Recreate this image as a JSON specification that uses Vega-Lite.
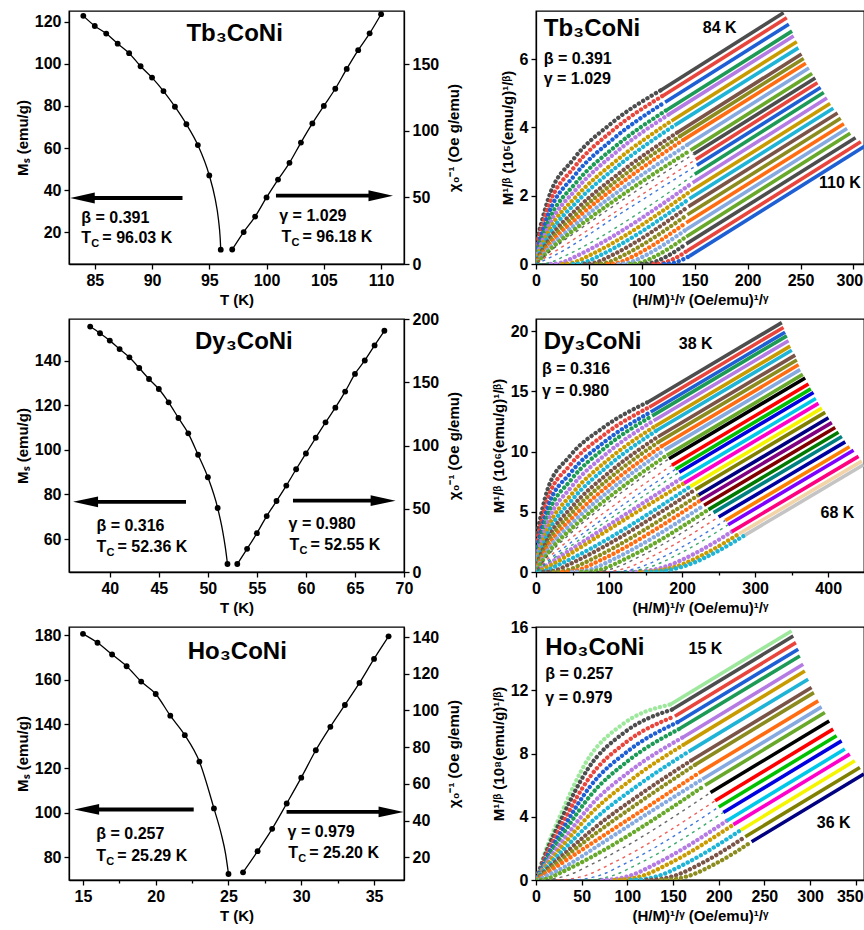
{
"$schema": "https://vega.github.io/schema/vega-lite/v6.json",
"background": "white",
"padding": {"left": 14, "top": 10, "right": 0, "bottom": 0},
"columns": 2,
"spacing": {"row": 55, "column": 132},
"bounds": "flush",
"resolve": {"scale": {"color": "independent", "stroke": "independent", "shape": "independent"}},
"config": {
 "view": {"stroke": "#000", "strokeWidth": 1.3},
 "axis": {"grid": false, "domainColor": "#000", "domainWidth": 1.3, "tickColor": "#000", "tickWidth": 1.3, "tickSize": 5, "labelFont": "Liberation Sans, Arial, sans-serif", "labelFontWeight": "bold", "labelFontSize": 16, "labelColor": "#000", "titleFont": "Liberation Sans, Arial, sans-serif", "titleFontWeight": "bold", "titleFontSize": 15, "titleColor": "#000", "labelOverlap": false, "labelBound": false, "labelFlush": false, "format": "~f", "labelPadding": 3, "titlePadding": 4},
 "text": {"font": "Liberation Sans, Arial, sans-serif", "fontWeight": "bold", "color": "#000"}
},
"datasets": {
 "tbMs": [{"T":84,"M":122.7},{"T":85,"M":117.9},{"T":86,"M":114.3},{"T":87,"M":109.5},{"T":88,"M":105},{"T":89,"M":98.8},{"T":90,"M":93.4},{"T":91,"M":87},{"T":92,"M":79.6},{"T":93,"M":71.3},{"T":94,"M":61.4},{"T":95,"M":47},{"T":96,"M":11.8}],
 "tbMsFit": [{"T":84,"M":122.7},{"T":85,"M":117.9},{"T":86,"M":114.3},{"T":87,"M":109.5},{"T":88,"M":105},{"T":89,"M":98.8},{"T":90,"M":93.4},{"T":91,"M":87},{"T":92,"M":79.6},{"T":93,"M":71.3},{"T":94,"M":61.4},{"T":95,"M":47},{"T":95.5,"M":36.2},{"T":95.8,"M":26.1},{"T":95.95,"M":17.3},{"T":96,"M":11.8}],
 "tbChi": [{"T":97,"C":10.9},{"T":98,"C":24},{"T":99,"C":35.6},{"T":100,"C":50},{"T":101,"C":63.4},{"T":102,"C":76},{"T":103,"C":91.2},{"T":104,"C":105.6},{"T":105,"C":118.7},{"T":106,"C":131.6},{"T":107,"C":146.5},{"T":108,"C":160.6},{"T":109,"C":173.2},{"T":110,"C":187.6}],
 "tbArr": [{"T":92.66,"T2":84.6,"M":36.3,"H":83.93,"dir":"left"},{"T":100.82,"T2":109.3,"M":37.4,"H":109.97,"dir":"right"}],
 "tbTxt": [{"T":83.83,"M":24.4,"a":"β = 0.391","sub":"","b":""},{"T":83.83,"M":14.9,"a":"T","sub":"C","b":"= 96.03 K"},{"T":101.11,"M":25.2,"a":"γ = 1.029","sub":"","b":""},{"T":101.3,"M":15.4,"a":"T","sub":"C","b":"= 96.18 K"}],
 "tbTitle": [{"T":93.0,"M":110.8,"t":"Tb₃CoNi"}],
 "dyMs": [{"T":38,"M":155.3},{"T":39,"M":152.3},{"T":40,"M":149},{"T":41,"M":145.2},{"T":42,"M":141.5},{"T":43,"M":136.7},{"T":44,"M":131.8},{"T":45,"M":127.3},{"T":46,"M":121.3},{"T":47,"M":114.3},{"T":48,"M":107.4},{"T":49,"M":97.8},{"T":50,"M":87.7},{"T":51,"M":73.9},{"T":52,"M":48.8}],
 "dyMsFit": [{"T":38,"M":155.3},{"T":39,"M":152.3},{"T":40,"M":149},{"T":41,"M":145.2},{"T":42,"M":141.5},{"T":43,"M":136.7},{"T":44,"M":131.8},{"T":45,"M":127.3},{"T":46,"M":121.3},{"T":47,"M":114.3},{"T":48,"M":107.4},{"T":49,"M":97.8},{"T":50,"M":87.7},{"T":51,"M":73.9},{"T":51.5,"M":63.8},{"T":51.8,"M":55.7},{"T":52,"M":48.8}],
 "dyChi": [{"T":53,"C":6.3},{"T":54,"C":18.3},{"T":55,"C":30.7},{"T":56,"C":44.2},{"T":57,"C":56.1},{"T":58,"C":68.3},{"T":59,"C":81.2},{"T":60,"C":93.7},{"T":61,"C":106.1},{"T":62,"C":118.3},{"T":63,"C":129.9},{"T":64,"C":142.6},{"T":65,"C":156.6},{"T":66,"C":167.2},{"T":67,"C":179.1},{"T":68,"C":190.7}],
 "dyArr": [{"T":47.77,"T2":38.5,"M":76.7,"H":37.53,"dir":"left"},{"T":58.68,"T2":67.2,"M":77.2,"H":67.87,"dir":"right"}],
 "dyTxt": [{"T":38.64,"M":63.7,"a":"β = 0.316","sub":"","b":""},{"T":38.64,"M":54.0,"a":"T","sub":"C","b":"= 52.36 K"},{"T":58.23,"M":64.5,"a":"γ = 0.980","sub":"","b":""},{"T":58.33,"M":55.1,"a":"T","sub":"C","b":"= 52.55 K"}],
 "dyTitle": [{"T":48.69,"M":145.2,"t":"Dy₃CoNi"}],
 "hoMs": [{"T":15,"M":180.7},{"T":16,"M":176.7},{"T":17,"M":171.4},{"T":18,"M":166.1},{"T":19,"M":159.2},{"T":20,"M":153.6},{"T":21,"M":143.8},{"T":22,"M":135},{"T":23,"M":123.1},{"T":24,"M":102},{"T":25,"M":72.4}],
 "hoMsFit": [{"T":15,"M":180.7},{"T":16,"M":176.7},{"T":17,"M":171.4},{"T":18,"M":166.1},{"T":19,"M":159.2},{"T":20,"M":153.6},{"T":21,"M":143.8},{"T":22,"M":135},{"T":23,"M":123.1},{"T":24,"M":102},{"T":24.5,"M":90.5},{"T":24.8,"M":81.5},{"T":25,"M":72.4}],
 "hoChi": [{"T":26,"C":11.8},{"T":27,"C":23.3},{"T":28,"C":35.5},{"T":29,"C":49.3},{"T":30,"C":63.4},{"T":31,"C":78.3},{"T":32,"C":91.1},{"T":33,"C":103},{"T":34,"C":115},{"T":35,"C":128.1},{"T":36,"C":140.4}],
 "hoArr": [{"T":22.61,"T2":15.9,"M":101.5,"H":15.25,"dir":"left"},{"T":28.99,"T2":35.8,"M":100.4,"H":36.17,"dir":"right"}],
 "hoTxt": [{"T":15.92,"M":88.0,"a":"β = 0.257","sub":"","b":""},{"T":15.92,"M":78.2,"a":"T","sub":"C","b":"=  25.29 K"},{"T":29.06,"M":89.2,"a":"γ = 0.979","sub":"","b":""},{"T":29.1,"M":79.7,"a":"T","sub":"C","b":"= 25.20 K"}],
 "hoTitle": [{"T":22.2,"M":169.4,"t":"Ho₃CoNi"}],
 "tbLow": [
  {"T":84,"x":1.2,"y":0.74},{"T":84,"x":11.8,"y":1.93},{"T":84,"x":35.4,"y":3.07},{"T":84,"x":70.8,"y":4.11},{"T":84,"x":118,"y":5.09},
  {"T":85,"x":1.2,"y":0.59},{"T":85,"x":12,"y":1.71},{"T":85,"x":36,"y":2.83},{"T":85,"x":72,"y":3.9},{"T":85,"x":120,"y":4.93},
  {"T":86,"x":1.2,"y":0.47},{"T":86,"x":12.2,"y":1.5},{"T":86,"x":36.6,"y":2.6},{"T":86,"x":73.2,"y":3.67},{"T":86,"x":122,"y":4.74},
  {"T":87,"x":1.2,"y":0.38},{"T":87,"x":12.4,"y":1.3},{"T":87,"x":37.2,"y":2.36},{"T":87,"x":74.4,"y":3.43},{"T":87,"x":124,"y":4.52},
  {"T":88,"x":1.3,"y":0.3},{"T":88,"x":12.6,"y":1.15},{"T":88,"x":37.8,"y":2.18},{"T":88,"x":75.6,"y":3.27},{"T":88,"x":126,"y":4.39},
  {"T":89,"x":1.3,"y":0.24},{"T":89,"x":12.8,"y":1.01},{"T":89,"x":38.4,"y":1.99},{"T":89,"x":76.8,"y":3.05},{"T":89,"x":128,"y":4.19},
  {"T":90,"x":1.3,"y":0.19},{"T":90,"x":13.1,"y":0.89},{"T":90,"x":39.3,"y":1.84},{"T":90,"x":78.6,"y":2.9},{"T":90,"x":131,"y":4.06},
  {"T":91,"x":1.3,"y":0.15},{"T":91,"x":13.4,"y":0.77},{"T":91,"x":40.2,"y":1.66},{"T":91,"x":80.4,"y":2.7},{"T":91,"x":134,"y":3.86},
  {"T":92,"x":1.4,"y":0.12},{"T":92,"x":13.7,"y":0.68},{"T":92,"x":41.1,"y":1.54},{"T":92,"x":82.2,"y":2.58},{"T":92,"x":137,"y":3.76},
  {"T":93,"x":1.4,"y":0.1},{"T":93,"x":14,"y":0.61},{"T":93,"x":42,"y":1.43},{"T":93,"x":84,"y":2.45},{"T":93,"x":140,"y":3.65},
  {"T":94,"x":1.4,"y":0.08},{"T":94,"x":14.3,"y":0.53},{"T":94,"x":42.9,"y":1.3},{"T":94,"x":85.8,"y":2.3},{"T":94,"x":143,"y":3.49},
  {"T":95,"x":1.5,"y":0.06},{"T":95,"x":14.6,"y":0.46},{"T":95,"x":43.8,"y":1.18},{"T":95,"x":87.6,"y":2.15},{"T":95,"x":146,"y":3.33},
  {"T":96,"x":1.5,"y":0.05},{"T":96,"x":14.9,"y":0.41},{"T":96,"x":44.7,"y":1.09},{"T":96,"x":89.4,"y":2.03},{"T":96,"x":149,"y":3.22},
  {"T":97,"x":1.5,"y":0.05},{"T":97,"x":15,"y":0.31},{"T":97,"x":45,"y":0.91},{"T":97,"x":90,"y":1.83},{"T":97,"x":151,"y":3.06},
  {"T":98,"x":0,"y":0.01},{"T":98,"x":4,"y":0.06},{"T":98,"x":16,"y":0.23},{"T":98,"x":80,"y":1.48},{"T":98,"x":152,"y":2.89},
  {"T":99,"x":3,"y":0},{"T":99,"x":9,"y":0.015},{"T":99,"x":15,"y":0.06},{"T":99,"x":27,"y":0.23},{"T":99,"x":150,"y":2.63},
  {"T":100,"x":14,"y":0},{"T":100,"x":20,"y":0.015},{"T":100,"x":26,"y":0.06},{"T":100,"x":38,"y":0.23},{"T":100,"x":148,"y":2.38},
  {"T":101,"x":25,"y":0},{"T":101,"x":31,"y":0.015},{"T":101,"x":37,"y":0.06},{"T":101,"x":49,"y":0.23},{"T":101,"x":146,"y":2.13},
  {"T":102,"x":35,"y":0},{"T":102,"x":41,"y":0.015},{"T":102,"x":47,"y":0.06},{"T":102,"x":59,"y":0.23},{"T":102,"x":145,"y":1.91},
  {"T":103,"x":46,"y":0},{"T":103,"x":52,"y":0.015},{"T":103,"x":58,"y":0.06},{"T":103,"x":70,"y":0.23},{"T":103,"x":144,"y":1.68},
  {"T":104,"x":57,"y":0},{"T":104,"x":63,"y":0.015},{"T":104,"x":69,"y":0.06},{"T":104,"x":81,"y":0.23},{"T":104,"x":143,"y":1.44},
  {"T":105,"x":68,"y":0},{"T":105,"x":74,"y":0.015},{"T":105,"x":80,"y":0.06},{"T":105,"x":92,"y":0.23},{"T":105,"x":142,"y":1.21},
  {"T":106,"x":78,"y":0},{"T":106,"x":84,"y":0.015},{"T":106,"x":90,"y":0.06},{"T":106,"x":102,"y":0.23},{"T":106,"x":142,"y":1.01},
  {"T":107,"x":89,"y":0},{"T":107,"x":95,"y":0.015},{"T":107,"x":101,"y":0.06},{"T":107,"x":113,"y":0.23},{"T":107,"x":142,"y":0.8},
  {"T":108,"x":100,"y":0},{"T":108,"x":106,"y":0.015},{"T":108,"x":112,"y":0.06},{"T":108,"x":124,"y":0.23},{"T":108,"x":142,"y":0.59},
  {"T":109,"x":111,"y":0},{"T":109,"x":117,"y":0.015},{"T":109,"x":123,"y":0.06},{"T":109,"x":135,"y":0.23},{"T":109,"x":143,"y":0.39},
  {"T":110,"x":121,"y":0},{"T":110,"x":127,"y":0.015},{"T":110,"x":133,"y":0.06},{"T":110,"x":145,"y":0.23}
 ],
 "tbHi": [
  {"T":84,"x":118,"y":5.09,"x2":234,"y2":7.36},{"T":85,"x":120,"y":4.93,"x2":237,"y2":7.21},{"T":86,"x":122,"y":4.74,"x2":239,"y2":7.02},{"T":87,"x":124,"y":4.52,"x2":242,"y2":6.82},{"T":88,"x":126,"y":4.39,"x2":243.5,"y2":6.68},{"T":89,"x":128,"y":4.19,"x2":246.5,"y2":6.51},{"T":90,"x":131,"y":4.06,"x2":248,"y2":6.33},{"T":91,"x":134,"y":3.86,"x2":251,"y2":6.15},{"T":92,"x":137,"y":3.76,"x2":253,"y2":6.02},{"T":93,"x":140,"y":3.65,"x2":255,"y2":5.88},{"T":94,"x":143,"y":3.49,"x2":258,"y2":5.74},{"T":95,"x":146,"y":3.33,"x2":261,"y2":5.58},{"T":96,"x":149,"y":3.22,"x2":264,"y2":5.45},{"T":97,"x":151,"y":3.06,"x2":266,"y2":5.31},{"T":98,"x":152,"y":2.89,"x2":269,"y2":5.17},{"T":99,"x":150,"y":2.63,"x2":272,"y2":5.02},{"T":100,"x":148,"y":2.38,"x2":275,"y2":4.86},{"T":101,"x":146,"y":2.13,"x2":278,"y2":4.7},{"T":102,"x":145,"y":1.91,"x2":281,"y2":4.56},{"T":103,"x":144,"y":1.68,"x2":285,"y2":4.42},{"T":104,"x":143,"y":1.44,"x2":288,"y2":4.27},{"T":105,"x":142,"y":1.21,"x2":291,"y2":4.11},{"T":106,"x":142,"y":1.01,"x2":294,"y2":3.97},{"T":107,"x":142,"y":0.8,"x2":297,"y2":3.83},{"T":108,"x":142,"y":0.59,"x2":302,"y2":3.7},{"T":109,"x":143,"y":0.39,"x2":307,"y2":3.58},{"T":110,"x":145,"y":0.23,"x2":312,"y2":3.48}
 ],
 "tbRTxt": [{"x":7.3,"y":5.85,"t":"β = 0.391"},{"x":7.3,"y":5.26,"t":"γ = 1.029"},{"x":157.7,"y":6.77,"t":"84 K"},{"x":267.5,"y":2.23,"t":"110 K"}],
 "tbRTitle": [{"x":7.3,"y":6.68,"t":"Tb₃CoNi"}],
 "dyLow": [
  {"T":38,"x":1.5,"y":3.24},{"T":38,"x":15.4,"y":6.77},{"T":38,"x":46.2,"y":9.61},{"T":38,"x":92.4,"y":12.0},{"T":38,"x":154,"y":14.13},
  {"T":39,"x":1.6,"y":2.61},{"T":39,"x":15.5,"y":5.98},{"T":39,"x":46.5,"y":8.86},{"T":39,"x":93,"y":11.38},{"T":39,"x":155,"y":13.68},
  {"T":40,"x":1.6,"y":2.1},{"T":40,"x":15.7,"y":5.29},{"T":40,"x":47.1,"y":8.21},{"T":40,"x":94.2,"y":10.82},{"T":40,"x":157,"y":13.28},
  {"T":41,"x":1.6,"y":1.71},{"T":41,"x":15.9,"y":4.7},{"T":41,"x":47.7,"y":7.63},{"T":41,"x":95.4,"y":10.36},{"T":41,"x":159,"y":12.96},
  {"T":42,"x":1.6,"y":1.38},{"T":42,"x":16.1,"y":4.16},{"T":42,"x":48.3,"y":7.05},{"T":42,"x":96.6,"y":9.83},{"T":42,"x":161,"y":12.56},
  {"T":43,"x":1.6,"y":1.1},{"T":43,"x":16.3,"y":3.65},{"T":43,"x":48.9,"y":6.47},{"T":43,"x":97.8,"y":9.28},{"T":43,"x":163,"y":12.1},
  {"T":44,"x":1.7,"y":0.89},{"T":44,"x":16.5,"y":3.23},{"T":44,"x":49.5,"y":5.99},{"T":44,"x":99,"y":8.82},{"T":44,"x":165,"y":11.74},
  {"T":45,"x":1.7,"y":0.71},{"T":45,"x":16.7,"y":2.82},{"T":45,"x":50.1,"y":5.46},{"T":45,"x":100.2,"y":8.27},{"T":45,"x":167,"y":11.23},
  {"T":46,"x":1.7,"y":0.56},{"T":46,"x":16.9,"y":2.48},{"T":46,"x":50.7,"y":5.02},{"T":46,"x":101.4,"y":7.82},{"T":46,"x":169,"y":10.84},
  {"T":47,"x":1.7,"y":0.46},{"T":47,"x":17.2,"y":2.18},{"T":47,"x":51.6,"y":4.6},{"T":47,"x":103.2,"y":7.38},{"T":47,"x":172,"y":10.44},
  {"T":48,"x":1.8,"y":0.36},{"T":48,"x":17.6,"y":1.93},{"T":48,"x":52.8,"y":4.25},{"T":48,"x":105.6,"y":7.0},{"T":48,"x":176,"y":10.12},
  {"T":49,"x":1.8,"y":0.29},{"T":49,"x":17.9,"y":1.68},{"T":49,"x":53.7,"y":3.87},{"T":49,"x":107.4,"y":6.56},{"T":49,"x":179,"y":9.68},
  {"T":50,"x":1.8,"y":0.24},{"T":50,"x":18.2,"y":1.49},{"T":50,"x":54.6,"y":3.59},{"T":50,"x":109.2,"y":6.24},{"T":50,"x":182,"y":9.4},
  {"T":51,"x":1.9,"y":0.18},{"T":51,"x":18.6,"y":1.25},{"T":51,"x":55.8,"y":3.18},{"T":51,"x":111.6,"y":5.74},{"T":51,"x":186,"y":8.86},
  {"T":52,"x":1.9,"y":0.14},{"T":52,"x":19.1,"y":1.07},{"T":52,"x":57.3,"y":2.88},{"T":52,"x":114.6,"y":5.38},{"T":52,"x":191,"y":8.53},
  {"T":53,"x":2,"y":0.1},{"T":53,"x":19.6,"y":0.93},{"T":53,"x":58.8,"y":2.64},{"T":53,"x":117.6,"y":5.09},{"T":53,"x":196,"y":8.28},
  {"T":54,"x":2,"y":0.08},{"T":54,"x":19.8,"y":0.77},{"T":54,"x":59.4,"y":2.32},{"T":54,"x":118.8,"y":4.64},{"T":54,"x":198,"y":7.74},
  {"T":55,"x":2,"y":0.04},{"T":55,"x":20.3,"y":0.56},{"T":55,"x":60.9,"y":2.04},{"T":55,"x":121.8,"y":4.37},{"T":55,"x":203,"y":7.38},
  {"T":56,"x":0,"y":0},{"T":56,"x":6.5,"y":0.034},{"T":56,"x":14,"y":0.135},{"T":56,"x":29,"y":0.54},{"T":56,"x":211,"y":7.09},
  {"T":57,"x":10,"y":0},{"T":57,"x":19,"y":0.04},{"T":57,"x":28,"y":0.16},{"T":57,"x":46,"y":0.65},{"T":57,"x":218,"y":6.84},
  {"T":58,"x":24,"y":0},{"T":58,"x":34.5,"y":0.047},{"T":58,"x":45,"y":0.19},{"T":58,"x":66,"y":0.76},{"T":58,"x":223,"y":6.41},
  {"T":59,"x":36,"y":0},{"T":59,"x":48,"y":0.054},{"T":59,"x":60,"y":0.22},{"T":59,"x":84,"y":0.86},{"T":59,"x":225,"y":5.94},
  {"T":60,"x":49,"y":0},{"T":60,"x":62.5,"y":0.061},{"T":60,"x":76,"y":0.24},{"T":60,"x":103,"y":0.97},{"T":60,"x":230,"y":5.54},
  {"T":61,"x":62,"y":0},{"T":61,"x":77,"y":0.068},{"T":61,"x":92,"y":0.27},{"T":61,"x":122,"y":1.08},{"T":61,"x":236,"y":5.18},
  {"T":62,"x":73,"y":0},{"T":62,"x":89.5,"y":0.074},{"T":62,"x":106,"y":0.3},{"T":62,"x":139,"y":1.19},{"T":62,"x":243,"y":4.93},
  {"T":63,"x":87,"y":0},{"T":63,"x":105,"y":0.081},{"T":63,"x":123,"y":0.32},{"T":63,"x":159,"y":1.3},{"T":63,"x":250,"y":4.57},
  {"T":64,"x":101,"y":0},{"T":64,"x":120.5,"y":0.088},{"T":64,"x":140,"y":0.35},{"T":64,"x":179,"y":1.4},{"T":64,"x":259,"y":4.28},
  {"T":65,"x":112,"y":0},{"T":65,"x":133,"y":0.095},{"T":65,"x":154,"y":0.38},{"T":65,"x":196,"y":1.51},{"T":65,"x":263,"y":3.92},
  {"T":66,"x":130,"y":0},{"T":66,"x":152.5,"y":0.1},{"T":66,"x":175,"y":0.41},{"T":66,"x":220,"y":1.62},{"T":66,"x":268,"y":3.35},
  {"T":67,"x":142,"y":0},{"T":67,"x":166,"y":0.11},{"T":67,"x":190,"y":0.43},{"T":67,"x":238,"y":1.73},{"T":67,"x":278,"y":3.17},
  {"T":68,"x":151,"y":0},{"T":68,"x":176,"y":0.11},{"T":68,"x":201,"y":0.45},{"T":68,"x":251,"y":1.8},{"T":68,"x":286,"y":3.06}
 ],
 "dyHi": [
  {"T":38,"x":154,"y":14.13,"x2":336.5,"y2":20.7},{"T":39,"x":155,"y":13.68,"x2":338.8,"y2":20.3},{"T":40,"x":157,"y":13.28,"x2":341,"y2":19.9},{"T":41,"x":159,"y":12.96,"x2":343.4,"y2":19.6},{"T":42,"x":161,"y":12.56,"x2":345.7,"y2":19.2},{"T":43,"x":163,"y":12.1,"x2":348,"y2":18.75},{"T":44,"x":165,"y":11.74,"x2":350.2,"y2":18.4},{"T":45,"x":167,"y":11.23,"x2":354.8,"y2":18.0},{"T":46,"x":169,"y":10.84,"x2":357.1,"y2":17.6},{"T":47,"x":172,"y":10.44,"x2":359.4,"y2":17.2},{"T":48,"x":176,"y":10.12,"x2":361.6,"y2":16.8},{"T":49,"x":179,"y":9.68,"x2":365.3,"y2":16.4},{"T":50,"x":182,"y":9.4,"x2":368.5,"y2":16.1},{"T":51,"x":186,"y":8.86,"x2":373,"y2":15.6},{"T":52,"x":191,"y":8.53,"x2":376.3,"y2":15.2},{"T":53,"x":196,"y":8.28,"x2":379.9,"y2":14.9},{"T":54,"x":198,"y":7.74,"x2":383.1,"y2":14.4},{"T":55,"x":203,"y":7.38,"x2":386.7,"y2":14.0},{"T":56,"x":211,"y":7.09,"x2":391.4,"y2":13.6},{"T":57,"x":218,"y":6.84,"x2":395.9,"y2":13.25},{"T":58,"x":223,"y":6.41,"x2":400.4,"y2":12.8},{"T":59,"x":225,"y":5.94,"x2":405,"y2":12.4},{"T":60,"x":230,"y":5.54,"x2":409.6,"y2":12.0},{"T":61,"x":236,"y":5.18,"x2":414.1,"y2":11.6},{"T":62,"x":243,"y":4.93,"x2":418.8,"y2":11.25},{"T":63,"x":250,"y":4.57,"x2":423.3,"y2":10.8},{"T":64,"x":259,"y":4.28,"x2":429.2,"y2":10.4},{"T":65,"x":263,"y":3.92,"x2":434.7,"y2":10.1},{"T":66,"x":268,"y":3.35,"x2":441.5,"y2":9.6},{"T":67,"x":278,"y":3.17,"x2":446,"y2":9.2},{"T":68,"x":286,"y":3.06,"x2":448.4,"y2":8.9}
 ],
 "dyRTxt": [{"x":8.2,"y":16.44,"t":"β = 0.316"},{"x":8.2,"y":14.58,"t":"γ = 0.980"},{"x":195.4,"y":18.55,"t":"38 K"},{"x":389.5,"y":4.5,"t":"68 K"}],
 "dyRTitle": [{"x":10.5,"y":18.47,"t":"Dy₃CoNi"}],
 "hoLow": [
  {"T":15,"x":1,"y":0.15},{"T":15,"x":7.4,"y":1.33},{"T":15,"x":29.4,"y":4.44},{"T":15,"x":55.9,"y":7.55},{"T":15,"x":95.6,"y":9.88},{"T":15,"x":147,"y":11.1},
  {"T":16,"x":1,"y":0.15},{"T":16,"x":7.5,"y":1.22},{"T":16,"x":29.8,"y":4.1},{"T":16,"x":56.6,"y":7.01},{"T":16,"x":96.9,"y":9.34},{"T":16,"x":149,"y":10.78},
  {"T":17,"x":1,"y":0.15},{"T":17,"x":7.6,"y":1.1},{"T":17,"x":30.4,"y":3.73},{"T":17,"x":57.8,"y":6.42},{"T":17,"x":98.8,"y":8.72},{"T":17,"x":152,"y":10.36},
  {"T":18,"x":1,"y":0.15},{"T":18,"x":7.8,"y":0.99},{"T":18,"x":31,"y":3.39},{"T":18,"x":58.9,"y":5.89},{"T":18,"x":100.8,"y":8.16},{"T":18,"x":155,"y":9.98},
  {"T":19,"x":1,"y":0.1},{"T":19,"x":7.9,"y":0.88},{"T":19,"x":31.4,"y":3.06},{"T":19,"x":59.7,"y":5.35},{"T":19,"x":102,"y":7.59},{"T":19,"x":157,"y":9.56},
  {"T":20,"x":1,"y":0.1},{"T":20,"x":8,"y":0.77},{"T":20,"x":32,"y":2.7},{"T":20,"x":60.8,"y":4.77},{"T":20,"x":104,"y":6.93},{"T":20,"x":160,"y":9.0},
  {"T":21,"x":1,"y":0.1},{"T":21,"x":8.2,"y":0.67},{"T":21,"x":32.6,"y":2.41},{"T":21,"x":61.9,"y":4.31},{"T":21,"x":106,"y":6.42},{"T":21,"x":163,"y":8.61},
  {"T":22,"x":1,"y":0.1},{"T":22,"x":8.4,"y":0.58},{"T":22,"x":33.4,"y":2.11},{"T":22,"x":63.5,"y":3.82},{"T":22,"x":108.6,"y":5.86},{"T":22,"x":167,"y":8.12},
  {"T":23,"x":1,"y":0.05},{"T":23,"x":8.6,"y":0.49},{"T":23,"x":34.2,"y":1.82},{"T":23,"x":65,"y":3.34},{"T":23,"x":111.2,"y":5.3},{"T":23,"x":171,"y":7.6},
  {"T":24,"x":1,"y":0.05},{"T":24,"x":8.7,"y":0.41},{"T":24,"x":34.8,"y":1.6},{"T":24,"x":66.1,"y":2.98},{"T":24,"x":113.1,"y":4.91},{"T":24,"x":174,"y":7.28},
  {"T":25,"x":1,"y":0.05},{"T":25,"x":8.9,"y":0.34},{"T":25,"x":35.6,"y":1.35},{"T":25,"x":67.6,"y":2.57},{"T":25,"x":115.7,"y":4.39},{"T":25,"x":178,"y":6.76},
  {"T":26,"x":2,"y":0.02},{"T":26,"x":30,"y":0.79},{"T":26,"x":70,"y":2.25},{"T":26,"x":120,"y":4.12},{"T":26,"x":182,"y":6.37},
  {"T":27,"x":0,"y":0},{"T":27,"x":7,"y":0.03},{"T":27,"x":14,"y":0.12},{"T":27,"x":28,"y":0.49},{"T":27,"x":185,"y":5.99},
  {"T":28,"x":3,"y":0},{"T":28,"x":18,"y":0.066},{"T":28,"x":33,"y":0.26},{"T":28,"x":63,"y":1.05},{"T":28,"x":191,"y":5.53},
  {"T":29,"x":23,"y":0},{"T":29,"x":38,"y":0.066},{"T":29,"x":53,"y":0.26},{"T":29,"x":83,"y":1.05},{"T":29,"x":196,"y":5.01},
  {"T":30,"x":38,"y":0},{"T":30,"x":53,"y":0.066},{"T":30,"x":68,"y":0.26},{"T":30,"x":98,"y":1.05},{"T":30,"x":200,"y":4.62},
  {"T":31,"x":53,"y":0},{"T":31,"x":68,"y":0.066},{"T":31,"x":83,"y":0.26},{"T":31,"x":113,"y":1.05},{"T":31,"x":205,"y":4.27},
  {"T":32,"x":72,"y":0},{"T":32,"x":87,"y":0.066},{"T":32,"x":102,"y":0.26},{"T":32,"x":132,"y":1.05},{"T":32,"x":209,"y":3.75},
  {"T":33,"x":86,"y":0},{"T":33,"x":101,"y":0.066},{"T":33,"x":116,"y":0.26},{"T":33,"x":146,"y":1.05},{"T":33,"x":216,"y":3.5},
  {"T":34,"x":104,"y":0},{"T":34,"x":119,"y":0.066},{"T":34,"x":134,"y":0.26},{"T":34,"x":164,"y":1.05},{"T":34,"x":224,"y":3.15},
  {"T":35,"x":121,"y":0},{"T":35,"x":136,"y":0.066},{"T":35,"x":151,"y":0.26},{"T":35,"x":181,"y":1.05},{"T":35,"x":229,"y":2.73},
  {"T":36,"x":137,"y":0},{"T":36,"x":152,"y":0.066},{"T":36,"x":167,"y":0.26},{"T":36,"x":197,"y":1.05},{"T":36,"x":236,"y":2.42}
 ],
 "hoHi": [
  {"T":15,"x":147,"y":11.1,"x2":279.7,"y2":15.75},{"T":16,"x":149,"y":10.78,"x2":281.6,"y2":15.43},{"T":17,"x":152,"y":10.36,"x2":284.5,"y2":15.01},{"T":18,"x":155,"y":9.98,"x2":287,"y2":14.59},{"T":19,"x":157,"y":9.56,"x2":288.8,"y2":14.17},{"T":20,"x":160,"y":9.0,"x2":292.5,"y2":13.64},{"T":21,"x":163,"y":8.61,"x2":294.3,"y2":13.22},{"T":22,"x":167,"y":8.12,"x2":297.9,"y2":12.7},{"T":23,"x":171,"y":7.6,"x2":301.6,"y2":12.17},{"T":24,"x":174,"y":7.28,"x2":304.2,"y2":11.85},{"T":25,"x":178,"y":6.76,"x2":308.9,"y2":11.33},{"T":26,"x":182,"y":6.37,"x2":312.6,"y2":10.95},{"T":27,"x":185,"y":5.99,"x2":316.2,"y2":10.59},{"T":28,"x":191,"y":5.53,"x2":320.9,"y2":10.06},{"T":29,"x":196,"y":5.01,"x2":325.3,"y2":9.54},{"T":30,"x":200,"y":4.62,"x2":329,"y2":9.12},{"T":31,"x":205,"y":4.27,"x2":334.5,"y2":8.8},{"T":32,"x":209,"y":3.75,"x2":338.1,"y2":8.28},{"T":33,"x":216,"y":3.5,"x2":343.5,"y2":7.96},{"T":34,"x":224,"y":3.15,"x2":349,"y2":7.54},{"T":35,"x":229,"y":2.73,"x2":354.5,"y2":7.11},{"T":36,"x":236,"y":2.42,"x2":358.9,"y2":6.7}
 ],
 "hoRTxt": [{"x":10.2,"y":12.7,"t":"β = 0.257"},{"x":10.2,"y":11.22,"t":"γ = 0.979"},{"x":167,"y":14.28,"t":"15 K"},{"x":307.4,"y":3.32,"t":"36 K"}],
 "hoRTitle": [{"x":10.2,"y":14.23,"t":"Ho₃CoNi"}]
},
"concat": [
 {
  "width": 335, "height": 253,
  "layer": [
   {"layer": [
    {"data": {"name": "tbMsFit"}, "mark": {"type": "line", "color": "#000", "strokeWidth": 1.3, "interpolate": "monotone"},
     "encoding": {
      "x": {"field": "T", "type": "quantitative", "scale": {"domain": [82.75, 112], "nice": false, "zero": false}, "axis": {"title": "T (K)", "labelOverlap": false, "values": [85,87.5,90,92.5,95,97.5,100,102.5,105,107.5,110], "labelExpr": "datum.value % 5 === 0 ? datum.label : ''", "tickSize": {"condition": {"test": "datum.value % 5 === 0", "value": 5}, "value": 3}}},
      "y": {"field": "M", "type": "quantitative", "scale": {"domain": [5, 125], "nice": false, "zero": false}, "axis": {"title": "Mₛ (emu/g)", "labelOverlap": false, "values": [20,30,40,50,60,70,80,90,100,110,120], "labelExpr": "datum.value % 20 === 0 ? datum.label : ''", "tickSize": {"condition": {"test": "datum.value % 20 === 0", "value": 5}, "value": 3}}}
     }},
    {"data": {"name": "tbMs"}, "mark": {"type": "circle", "color": "#000", "size": 34, "opacity": 1}, "encoding": {"x": {"field": "T", "type": "quantitative"}, "y": {"field": "M", "type": "quantitative"}}},
    {"data": {"name": "tbArr"}, "mark": {"type": "rule", "color": "#000", "strokeWidth": 3.8}, "encoding": {"x": {"field": "T", "type": "quantitative"}, "x2": {"field": "T2"}, "y": {"field": "M", "type": "quantitative"}}},
    {"data": {"name": "tbArr"}, "mark": {"type": "point", "filled": true, "color": "#000", "opacity": 1, "size": 600, "strokeWidth": 0}, "encoding": {"x": {"field": "H", "type": "quantitative"}, "y": {"field": "M", "type": "quantitative"}, "shape": {"field": "dir", "type": "nominal", "scale": {"domain": ["left", "right"], "range": ["M-1,0L1,-0.45L1,0.45Z", "M1,0L-1,-0.45L-1,0.45Z"]}, "legend": null}}},
    {"data": {"name": "tbTxt"}, "mark": {"type": "text", "align": "left", "baseline": "alphabetic", "fontSize": 16}, "encoding": {"x": {"field": "T", "type": "quantitative"}, "y": {"field": "M", "type": "quantitative"}, "text": {"field": "a", "type": "nominal"}}},
    {"data": {"name": "tbTxt"}, "mark": {"type": "text", "align": "left", "baseline": "alphabetic", "fontSize": 11, "dx": 10, "dy": 4}, "encoding": {"x": {"field": "T", "type": "quantitative"}, "y": {"field": "M", "type": "quantitative"}, "text": {"field": "sub", "type": "nominal"}}},
    {"data": {"name": "tbTxt"}, "mark": {"type": "text", "align": "left", "baseline": "alphabetic", "fontSize": 16, "dx": 21}, "encoding": {"x": {"field": "T", "type": "quantitative"}, "y": {"field": "M", "type": "quantitative"}, "text": {"field": "b", "type": "nominal"}}},
    {"data": {"name": "tbTitle"}, "mark": {"type": "text", "align": "left", "baseline": "alphabetic", "fontSize": 24}, "encoding": {"x": {"field": "T", "type": "quantitative"}, "y": {"field": "M", "type": "quantitative"}, "text": {"field": "t", "type": "nominal"}}}
   ]},
   {"layer": [
    {"data": {"name": "tbChi"}, "mark": {"type": "line", "color": "#000", "strokeWidth": 1.3, "interpolate": "monotone"},
     "encoding": {"x": {"field": "T", "type": "quantitative"}, "y": {"field": "C", "type": "quantitative", "scale": {"domain": [0, 190], "nice": false, "zero": false}, "axis": {"orient": "right", "title": "χ₀⁻¹ (Oe g/emu)", "titleAngle": 270, "titleBaseline": "top", "titlePadding": 8, "labelOverlap": false, "values": [0,25,50,75,100,125,150,175], "labelExpr": "datum.value % 50 === 0 ? datum.label : ''", "tickSize": {"condition": {"test": "datum.value % 50 === 0", "value": 5}, "value": 3}}}}},
    {"data": {"name": "tbChi"}, "mark": {"type": "circle", "color": "#000", "size": 34, "opacity": 1}, "encoding": {"x": {"field": "T", "type": "quantitative"}, "y": {"field": "C", "type": "quantitative"}}}
   ]}
  ],
  "resolve": {"scale": {"y": "independent"}}
 },
 {
  "width": 328, "height": 253,
  "layer": [
   {"data": {"name": "tbLow"}, "transform": [{"filter": {"not": {"field": "T", "oneOf": [96,97,98,99]}}}],
    "mark": {"type": "line", "strokeWidth": 4.3, "strokeDash": [0.1, 4.9], "strokeCap": "round", "interpolate": "monotone", "clip": true},
    "encoding": {
     "x": {"field": "x", "type": "quantitative", "scale": {"domain": [0, 310], "nice": false, "zero": false}, "axis": {"title": "(H/M)¹/ᵞ (Oe/emu)¹/ᵞ", "labelOverlap": false, "values": [0,25,50,75,100,125,150,175,200,225,250,275,300], "labelExpr": "datum.value % 50 === 0 ? datum.label : ''", "labelOffset": {"condition": {"test": "datum.value === 300", "value": -4}, "value": 0}, "tickSize": {"condition": {"test": "datum.value % 50 === 0", "value": 5}, "value": 3}}},
     "y": {"field": "y", "type": "quantitative", "scale": {"domain": [0, 7.41], "nice": false, "zero": false}, "axis": {"title": "M¹/ᵝ (10⁵(emu/g)¹/ᵝ)", "labelOverlap": false, "values": [0,0.5,1,1.5,2,2.5,3,3.5,4,4.5,5,5.5,6,6.5,7], "labelExpr": "datum.value % 1 === 0 ? datum.label : ''", "tickSize": {"condition": {"test": "datum.value % 1 === 0", "value": 5}, "value": 3}}},
     "color": {"field": "T", "type": "nominal", "scale": {"domain": [84,85,86,87,88,89,90,91,92,93,94,95,96,97,98,99,100,101,102,103,104,105,106,107,108,109,110], "range": ["#4d4d4d","#e8453c","#1e5fd4","#1d9a56","#b47be3","#c89c00","#1fb3d6","#7a5446","#8b8b1e","#ff6c12","#86aadf","#68a82a","#4d4d4d","#e8453c","#1e5fd4","#1d9a56","#b47be3","#c89c00","#1fb3d6","#7a5446","#8b8b1e","#ff6c12","#86aadf","#68a82a","#4d4d4d","#e8453c","#1e5fd4"]}, "legend": null}
    }},
   {"data": {"name": "tbLow"}, "transform": [{"filter": {"field": "T", "oneOf": [96,97,98,99]}}],
    "mark": {"type": "line", "strokeWidth": 1.4, "strokeDash": [3, 4], "opacity": 0.85, "interpolate": "monotone", "clip": true},
    "encoding": {"x": {"field": "x", "type": "quantitative"}, "y": {"field": "y", "type": "quantitative"}, "color": {"field": "T", "type": "nominal", "legend": null}}},
   {"data": {"name": "tbHi"}, "mark": {"type": "rule", "strokeWidth": 3.6, "clip": true},
    "encoding": {"x": {"field": "x", "type": "quantitative"}, "y": {"field": "y", "type": "quantitative"}, "x2": {"field": "x2"}, "y2": {"field": "y2"},
     "stroke": {"field": "T", "type": "nominal", "scale": {"domain": [84,85,86,87,88,89,90,91,92,93,94,95,96,97,98,99,100,101,102,103,104,105,106,107,108,109,110], "range": ["#4d4d4d","#e8453c","#1e5fd4","#1d9a56","#b47be3","#c89c00","#1fb3d6","#7a5446","#8b8b1e","#ff6c12","#86aadf","#68a82a","#4d4d4d","#e8453c","#1e5fd4","#1d9a56","#b47be3","#c89c00","#1fb3d6","#7a5446","#8b8b1e","#ff6c12","#86aadf","#68a82a","#4d4d4d","#e8453c","#1e5fd4"]}, "legend": null}}},
   {"data": {"name": "tbRTxt"}, "mark": {"type": "text", "align": "left", "baseline": "alphabetic", "fontSize": 16, "clip": true}, "encoding": {"x": {"field": "x", "type": "quantitative"}, "y": {"field": "y", "type": "quantitative"}, "text": {"field": "t", "type": "nominal"}}},
   {"data": {"name": "tbRTitle"}, "mark": {"type": "text", "align": "left", "baseline": "alphabetic", "fontSize": 24, "clip": true}, "encoding": {"x": {"field": "x", "type": "quantitative"}, "y": {"field": "y", "type": "quantitative"}, "text": {"field": "t", "type": "nominal"}}}
  ]
 },
 {
  "width": 335, "height": 253,
  "layer": [
   {"layer": [
    {"data": {"name": "dyMsFit"}, "mark": {"type": "line", "color": "#000", "strokeWidth": 1.3, "interpolate": "monotone"},
     "encoding": {
      "x": {"field": "T", "type": "quantitative", "scale": {"domain": [35.84, 70], "nice": false, "zero": false}, "axis": {"title": "T (K)", "labelOverlap": false, "values": [40,42.5,45,47.5,50,52.5,55,57.5,60,62.5,65,67.5,70], "labelExpr": "datum.value % 5 === 0 ? datum.label : ''", "tickSize": {"condition": {"test": "datum.value % 5 === 0", "value": 5}, "value": 3}}},
      "y": {"field": "M", "type": "quantitative", "scale": {"domain": [45.2, 158.7], "nice": false, "zero": false}, "axis": {"title": "Mₛ (emu/g)", "labelOverlap": false, "values": [60,70,80,90,100,110,120,130,140,150], "labelExpr": "datum.value % 20 === 0 ? datum.label : ''", "tickSize": {"condition": {"test": "datum.value % 20 === 0", "value": 5}, "value": 3}}}
     }},
    {"data": {"name": "dyMs"}, "mark": {"type": "circle", "color": "#000", "size": 34, "opacity": 1}, "encoding": {"x": {"field": "T", "type": "quantitative"}, "y": {"field": "M", "type": "quantitative"}}},
    {"data": {"name": "dyArr"}, "mark": {"type": "rule", "color": "#000", "strokeWidth": 3.8}, "encoding": {"x": {"field": "T", "type": "quantitative"}, "x2": {"field": "T2"}, "y": {"field": "M", "type": "quantitative"}}},
    {"data": {"name": "dyArr"}, "mark": {"type": "point", "filled": true, "color": "#000", "opacity": 1, "size": 625, "strokeWidth": 0}, "encoding": {"x": {"field": "H", "type": "quantitative"}, "y": {"field": "M", "type": "quantitative"}, "shape": {"field": "dir", "type": "nominal", "scale": {"domain": ["left", "right"], "range": ["M-1,0L1,-0.43L1,0.43Z", "M1,0L-1,-0.43L-1,0.43Z"]}, "legend": null}}},
    {"data": {"name": "dyTxt"}, "mark": {"type": "text", "align": "left", "baseline": "alphabetic", "fontSize": 16}, "encoding": {"x": {"field": "T", "type": "quantitative"}, "y": {"field": "M", "type": "quantitative"}, "text": {"field": "a", "type": "nominal"}}},
    {"data": {"name": "dyTxt"}, "mark": {"type": "text", "align": "left", "baseline": "alphabetic", "fontSize": 11, "dx": 10, "dy": 4}, "encoding": {"x": {"field": "T", "type": "quantitative"}, "y": {"field": "M", "type": "quantitative"}, "text": {"field": "sub", "type": "nominal"}}},
    {"data": {"name": "dyTxt"}, "mark": {"type": "text", "align": "left", "baseline": "alphabetic", "fontSize": 16, "dx": 21}, "encoding": {"x": {"field": "T", "type": "quantitative"}, "y": {"field": "M", "type": "quantitative"}, "text": {"field": "b", "type": "nominal"}}},
    {"data": {"name": "dyTitle"}, "mark": {"type": "text", "align": "left", "baseline": "alphabetic", "fontSize": 24}, "encoding": {"x": {"field": "T", "type": "quantitative"}, "y": {"field": "M", "type": "quantitative"}, "text": {"field": "t", "type": "nominal"}}}
   ]},
   {"layer": [
    {"data": {"name": "dyChi"}, "mark": {"type": "line", "color": "#000", "strokeWidth": 1.3, "interpolate": "monotone"},
     "encoding": {"x": {"field": "T", "type": "quantitative"}, "y": {"field": "C", "type": "quantitative", "scale": {"domain": [0, 200], "nice": false, "zero": false}, "axis": {"orient": "right", "title": "χ₀⁻¹ (Oe g/emu)", "titleAngle": 270, "titleBaseline": "top", "titlePadding": 8, "labelOverlap": false, "values": [0,25,50,75,100,125,150,175,200], "labelExpr": "datum.value % 50 === 0 ? datum.label : ''", "tickSize": {"condition": {"test": "datum.value % 50 === 0", "value": 5}, "value": 3}}}}},
    {"data": {"name": "dyChi"}, "mark": {"type": "circle", "color": "#000", "size": 34, "opacity": 1}, "encoding": {"x": {"field": "T", "type": "quantitative"}, "y": {"field": "C", "type": "quantitative"}}}
   ]}
  ],
  "resolve": {"scale": {"y": "independent"}}
 },
 {
  "width": 328, "height": 253,
  "layer": [
   {"data": {"name": "dyLow"}, "transform": [{"filter": {"not": {"field": "T", "oneOf": [50,51,52,53,62,63,64,65]}}}],
    "mark": {"type": "line", "strokeWidth": 4.3, "strokeDash": [0.1, 4.9], "strokeCap": "round", "interpolate": "monotone", "clip": true},
    "encoding": {
     "x": {"field": "x", "type": "quantitative", "scale": {"domain": [0, 449], "nice": false, "zero": false}, "axis": {"title": "(H/M)¹/ᵞ (Oe/emu)¹/ᵞ", "labelOverlap": false, "values": [0,50,100,150,200,250,300,350,400], "labelExpr": "datum.value % 100 === 0 ? datum.label : ''", "tickSize": {"condition": {"test": "datum.value % 100 === 0", "value": 5}, "value": 3}}},
     "y": {"field": "y", "type": "quantitative", "scale": {"domain": [0, 21], "nice": false, "zero": false}, "axis": {"title": "M¹/ᵝ (10⁶(emu/g)¹/ᵝ)", "labelOverlap": false, "values": [0,2.5,5,7.5,10,12.5,15,17.5,20], "labelExpr": "datum.value % 5 === 0 ? datum.label : ''", "tickSize": {"condition": {"test": "datum.value % 5 === 0", "value": 5}, "value": 3}}},
     "color": {"field": "T", "type": "nominal", "scale": {"domain": [38,39,40,41,42,43,44,45,46,47,48,49,50,51,52,53,54,55,56,57,58,59,60,61,62,63,64,65,66,67,68], "range": ["#4d4d4d","#e8453c","#1e5fd4","#1d9a56","#b47be3","#c89c00","#1fb3d6","#7a5446","#8b8b1e","#ff6c12","#86aadf","#68a82a","#4d4d4d","#e8453c","#1e5fd4","#1d9a56","#b47be3","#c89c00","#1fb3d6","#7a5446","#8b8b1e","#ff6c12","#86aadf","#68a82a","#4d4d4d","#e8453c","#1e5fd4","#1d9a56","#b47be3","#c89c00","#1fb3d6"]}, "legend": null}
    }},
   {"data": {"name": "dyLow"}, "transform": [{"filter": {"field": "T", "oneOf": [50,51,52,53,62,63,64,65]}}],
    "mark": {"type": "line", "strokeWidth": 1.4, "strokeDash": [3, 4], "opacity": 0.85, "interpolate": "monotone", "clip": true},
    "encoding": {"x": {"field": "x", "type": "quantitative"}, "y": {"field": "y", "type": "quantitative"}, "color": {"field": "T", "type": "nominal", "legend": null}}},
   {"data": {"name": "dyHi"}, "mark": {"type": "rule", "strokeWidth": 3.6, "clip": true},
    "encoding": {"x": {"field": "x", "type": "quantitative"}, "y": {"field": "y", "type": "quantitative"}, "x2": {"field": "x2"}, "y2": {"field": "y2"},
     "stroke": {"field": "T", "type": "nominal", "scale": {"domain": [38,39,40,41,42,43,44,45,46,47,48,49,50,51,52,53,54,55,56,57,58,59,60,61,62,63,64,65,66,67,68], "range": ["#4d4d4d","#e8453c","#1e5fd4","#1d9a56","#b47be3","#c89c00","#1fb3d6","#7a5446","#8b8b1e","#ff6c12","#86aadf","#68a82a","#000000","#ff0000","#00c000","#0000e0","#00c8e8","#ff00cc","#f5f500","#808000","#000080","#800080","#800000","#007a00","#008080","#0000a0","#ff8000","#8000ff","#ff0080","#f2d4a8","#c4c4c4"]}, "legend": null}}},
   {"data": {"name": "dyRTxt"}, "mark": {"type": "text", "align": "left", "baseline": "alphabetic", "fontSize": 16, "clip": true}, "encoding": {"x": {"field": "x", "type": "quantitative"}, "y": {"field": "y", "type": "quantitative"}, "text": {"field": "t", "type": "nominal"}}},
   {"data": {"name": "dyRTitle"}, "mark": {"type": "text", "align": "left", "baseline": "alphabetic", "fontSize": 24, "clip": true}, "encoding": {"x": {"field": "x", "type": "quantitative"}, "y": {"field": "y", "type": "quantitative"}, "text": {"field": "t", "type": "nominal"}}}
  ]
 },
 {
  "width": 335, "height": 253,
  "layer": [
   {"layer": [
    {"data": {"name": "hoMsFit"}, "mark": {"type": "line", "color": "#000", "strokeWidth": 1.3, "interpolate": "monotone"},
     "encoding": {
      "x": {"field": "T", "type": "quantitative", "scale": {"domain": [14.04, 37.06], "nice": false, "zero": false}, "axis": {"title": "T (K)", "labelOverlap": false, "values": [15,17.5,20,22.5,25,27.5,30,32.5,35], "labelExpr": "datum.value % 5 === 0 ? datum.label : ''", "tickSize": {"condition": {"test": "datum.value % 5 === 0", "value": 5}, "value": 3}}},
      "y": {"field": "M", "type": "quantitative", "scale": {"domain": [69.7, 183.8], "nice": false, "zero": false}, "axis": {"title": "Mₛ (emu/g)", "labelOverlap": false, "values": [80,90,100,110,120,130,140,150,160,170,180], "labelExpr": "datum.value % 20 === 0 ? datum.label : ''", "tickSize": {"condition": {"test": "datum.value % 20 === 0", "value": 5}, "value": 3}}}
     }},
    {"data": {"name": "hoMs"}, "mark": {"type": "circle", "color": "#000", "size": 34, "opacity": 1}, "encoding": {"x": {"field": "T", "type": "quantitative"}, "y": {"field": "M", "type": "quantitative"}}},
    {"data": {"name": "hoArr"}, "mark": {"type": "rule", "color": "#000", "strokeWidth": 3.8}, "encoding": {"x": {"field": "T", "type": "quantitative"}, "x2": {"field": "T2"}, "y": {"field": "M", "type": "quantitative"}}},
    {"data": {"name": "hoArr"}, "mark": {"type": "point", "filled": true, "color": "#000", "opacity": 1, "size": 625, "strokeWidth": 0}, "encoding": {"x": {"field": "H", "type": "quantitative"}, "y": {"field": "M", "type": "quantitative"}, "shape": {"field": "dir", "type": "nominal", "scale": {"domain": ["left", "right"], "range": ["M-1,0L1,-0.43L1,0.43Z", "M1,0L-1,-0.43L-1,0.43Z"]}, "legend": null}}},
    {"data": {"name": "hoTxt"}, "mark": {"type": "text", "align": "left", "baseline": "alphabetic", "fontSize": 16}, "encoding": {"x": {"field": "T", "type": "quantitative"}, "y": {"field": "M", "type": "quantitative"}, "text": {"field": "a", "type": "nominal"}}},
    {"data": {"name": "hoTxt"}, "mark": {"type": "text", "align": "left", "baseline": "alphabetic", "fontSize": 11, "dx": 10, "dy": 4}, "encoding": {"x": {"field": "T", "type": "quantitative"}, "y": {"field": "M", "type": "quantitative"}, "text": {"field": "sub", "type": "nominal"}}},
    {"data": {"name": "hoTxt"}, "mark": {"type": "text", "align": "left", "baseline": "alphabetic", "fontSize": 16, "dx": 21}, "encoding": {"x": {"field": "T", "type": "quantitative"}, "y": {"field": "M", "type": "quantitative"}, "text": {"field": "b", "type": "nominal"}}},
    {"data": {"name": "hoTitle"}, "mark": {"type": "text", "align": "left", "baseline": "alphabetic", "fontSize": 24}, "encoding": {"x": {"field": "T", "type": "quantitative"}, "y": {"field": "M", "type": "quantitative"}, "text": {"field": "t", "type": "nominal"}}}
   ]},
   {"layer": [
    {"data": {"name": "hoChi"}, "mark": {"type": "line", "color": "#000", "strokeWidth": 1.3, "interpolate": "monotone"},
     "encoding": {"x": {"field": "T", "type": "quantitative"}, "y": {"field": "C", "type": "quantitative", "scale": {"domain": [7.6, 145.5], "nice": false, "zero": false}, "axis": {"orient": "right", "title": "χ₀⁻¹ (Oe g/emu)", "titleAngle": 270, "titleBaseline": "top", "titlePadding": 8, "labelOverlap": false, "values": [20,30,40,50,60,70,80,90,100,110,120,130,140], "labelExpr": "datum.value % 20 === 0 ? datum.label : ''", "tickSize": {"condition": {"test": "datum.value % 20 === 0", "value": 5}, "value": 3}}}}},
    {"data": {"name": "hoChi"}, "mark": {"type": "circle", "color": "#000", "size": 34, "opacity": 1}, "encoding": {"x": {"field": "T", "type": "quantitative"}, "y": {"field": "C", "type": "quantitative"}}}
   ]}
  ],
  "resolve": {"scale": {"y": "independent"}}
 },
 {
  "width": 328, "height": 253,
  "layer": [
   {"data": {"name": "hoLow"}, "transform": [{"filter": {"not": {"field": "T", "oneOf": [28,29,30,31]}}}],
    "mark": {"type": "line", "strokeWidth": 4.3, "strokeDash": [0.1, 4.9], "strokeCap": "round", "interpolate": "monotone", "clip": true},
    "encoding": {
     "x": {"field": "x", "type": "quantitative", "scale": {"domain": [0, 359], "nice": false, "zero": false}, "axis": {"title": "(H/M)¹/ᵞ (Oe/emu)¹/ᵞ", "labelOverlap": false, "values": [0,25,50,75,100,125,150,175,200,225,250,275,300,325,350], "labelExpr": "datum.value % 50 === 0 ? datum.label : ''", "labelOffset": {"condition": {"test": "datum.value === 350", "value": -6}, "value": 0}, "tickSize": {"condition": {"test": "datum.value % 50 === 0", "value": 5}, "value": 3}}},
     "y": {"field": "y", "type": "quantitative", "scale": {"domain": [0, 16], "nice": false, "zero": false}, "axis": {"title": "M¹/ᵝ (10⁸(emu/g)¹/ᵝ)", "labelOverlap": false, "values": [0,1,2,3,4,5,6,7,8,9,10,11,12,13,14,15,16], "labelExpr": "datum.value % 2 === 0 ? datum.label : ''", "tickSize": {"condition": {"test": "datum.value % 2 === 0", "value": 5}, "value": 3}}},
     "color": {"field": "T", "type": "nominal", "scale": {"domain": [15,16,17,18,19,20,21,22,23,24,25,26,27,28,29,30,31,32,33,34,35,36], "range": ["#9ee89e","#4d4d4d","#e8453c","#1e5fd4","#1d9a56","#b47be3","#c89c00","#1fb3d6","#7a5446","#8b8b1e","#ff6c12","#86aadf","#68a82a","#4d4d4d","#e8453c","#1e5fd4","#1d9a56","#b47be3","#c89c00","#1fb3d6","#7a5446","#8b8b1e"]}, "legend": null}
    }},
   {"data": {"name": "hoLow"}, "transform": [{"filter": {"field": "T", "oneOf": [28,29,30,31]}}],
    "mark": {"type": "line", "strokeWidth": 1.4, "strokeDash": [3, 4], "opacity": 0.85, "interpolate": "monotone", "clip": true},
    "encoding": {"x": {"field": "x", "type": "quantitative"}, "y": {"field": "y", "type": "quantitative"}, "color": {"field": "T", "type": "nominal", "legend": null}}},
   {"data": {"name": "hoHi"}, "mark": {"type": "rule", "strokeWidth": 3.6, "clip": true},
    "encoding": {"x": {"field": "x", "type": "quantitative"}, "y": {"field": "y", "type": "quantitative"}, "x2": {"field": "x2"}, "y2": {"field": "y2"},
     "stroke": {"field": "T", "type": "nominal", "scale": {"domain": [15,16,17,18,19,20,21,22,23,24,25,26,27,28,29,30,31,32,33,34,35,36], "range": ["#9ee89e","#4d4d4d","#e8453c","#1e5fd4","#1d9a56","#b47be3","#c89c00","#1fb3d6","#7a5446","#8b8b1e","#ff6c12","#86aadf","#68a82a","#000000","#ff0000","#00c000","#0000e0","#00c8e8","#ff00cc","#f5f500","#808000","#000080"]}, "legend": null}}},
   {"data": {"name": "hoRTxt"}, "mark": {"type": "text", "align": "left", "baseline": "alphabetic", "fontSize": 16, "clip": true}, "encoding": {"x": {"field": "x", "type": "quantitative"}, "y": {"field": "y", "type": "quantitative"}, "text": {"field": "t", "type": "nominal"}}},
   {"data": {"name": "hoRTitle"}, "mark": {"type": "text", "align": "left", "baseline": "alphabetic", "fontSize": 24, "clip": true}, "encoding": {"x": {"field": "x", "type": "quantitative"}, "y": {"field": "y", "type": "quantitative"}, "text": {"field": "t", "type": "nominal"}}}
  ]
 }
]
}
